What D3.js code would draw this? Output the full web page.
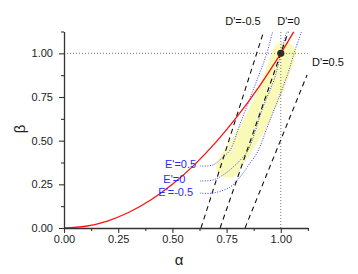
<!DOCTYPE html>
<html>
<head>
<meta charset="utf-8">
<script src="https://cdn.jsdelivr.net/npm/d3@7"></script>
<style>
  html, body { margin: 0; padding: 0; background: #fff; }
  svg { display: block; }
  text { font-family: "Liberation Sans", Arial, sans-serif; }
</style>
</head>
<body>
<svg id="chart" width="358" height="274"></svg>
<script>
// ---- data ----
const xTicks = [0, 0.25, 0.5, 0.75, 1.0];
const yTicks = [0, 0.25, 0.5, 0.75, 1.0];
const xMinorTicks = [0.125, 0.375, 0.625, 0.875, 1.125];
const yMinorTicks = [0.125, 0.375, 0.625, 0.875, 1.125];

// red curve beta vs alpha
const redAlpha = [0, 0.1, 0.2, 0.3, 0.4, 0.5, 0.6, 0.7, 0.8, 0.9, 1.0, 1.06];
const redBeta  = [0, 0.01, 0.04, 0.09, 0.16, 0.25, 0.36, 0.49, 0.64, 0.81, 1.0, 1.124];

// D' dashed lines (start / end points)
const dLabels = ["D'=-0.5", "D'=0", "D'=0.5"];
const dAlpha = [[0.632, 0.921], [0.720, 1.035], [0.835, 1.121]];
const dBeta  = [[0, 1.125], [0, 1.125], [0, 0.876]];

// E' dotted curves
const eLabels = ["E'=0.5", "E'=0", "E'=-0.5"];
const eAlpha = [
  [0.627, 0.687, 0.733, 0.766, 0.812, 0.858, 0.899, 0.936, 0.964],
  [0.627, 0.687, 0.733, 0.780, 0.826, 0.849, 0.881, 0.913, 0.973, 1.0, 1.029],
  [0.627, 0.687, 0.766, 0.812, 0.858, 0.890, 0.950, 0.987, 1.033, 1.066, 1.098]
];
const eBeta = [
  [0.355, 0.361, 0.406, 0.446, 0.595, 0.744, 0.876, 1.002, 1.133],
  [0.269, 0.275, 0.303, 0.349, 0.406, 0.446, 0.550, 0.675, 0.864, 1.0, 1.133],
  [0.200, 0.200, 0.235, 0.292, 0.372, 0.429, 0.618, 0.733, 0.887, 1.019, 1.133]
];

// yellow band centre line
const bandAlpha = [1.015, 1.001, 0.941, 0.863, 0.757];
const bandBeta  = [0.996, 0.944, 0.750, 0.561, 0.355];

// highlighted point
const pointAlpha = [1.0];
const pointBeta = [1.0];

// ---- drawing ----
const svg = d3.select("#chart");
const x = d3.scaleLinear().domain([0, 1.125]).range([64, 307.9]);
const y = d3.scaleLinear().domain([0, 1.125]).range([228, 31.5]);

svg.append("defs").append("clipPath").attr("id", "plotclip")
  .append("rect")
  .attr("x", x(0)).attr("y", y(1.125))
  .attr("width", x(1.125) - x(0)).attr("height", y(0) - y(1.125));

const plot = svg.append("g").attr("clip-path", "url(#plotclip)");

// yellow band
const bandLine = d3.line().x(d => x(d[0])).y(d => y(d[1])).curve(d3.curveCatmullRom);
plot.append("path")
  .attr("d", bandLine(bandAlpha.map((a, i) => [a, bandBeta[i]])))
  .attr("fill", "none")
  .attr("stroke", "#fafab8")
  .attr("stroke-width", 24)
  .attr("stroke-linecap", "round")
  .attr("stroke-linejoin", "round");

// reference dotted lines at alpha=1, beta=1
plot.append("line")
  .attr("x1", x(0)).attr("x2", x(1.125))
  .attr("y1", y(1)).attr("y2", y(1))
  .attr("stroke", "#777").attr("stroke-width", 1).attr("stroke-dasharray", "1,2");
plot.append("line")
  .attr("x1", x(1)).attr("x2", x(1))
  .attr("y1", y(0)).attr("y2", y(1.125))
  .attr("stroke", "#777").attr("stroke-width", 1).attr("stroke-dasharray", "1,2");

// E' curves
const curve = d3.line().x(d => x(d[0])).y(d => y(d[1])).curve(d3.curveCatmullRom);
eAlpha.forEach((arr, k) => {
  plot.append("path")
    .attr("d", curve(arr.map((a, i) => [a, eBeta[k][i]])))
    .attr("fill", "none")
    .attr("stroke", "#3c3cff")
    .attr("stroke-width", 1)
    .attr("stroke-dasharray", "1,1.5");
});

// D' lines
dAlpha.forEach((arr, k) => {
  plot.append("line")
    .attr("x1", x(arr[0])).attr("y1", y(dBeta[k][0]))
    .attr("x2", x(arr[1])).attr("y2", y(dBeta[k][1]))
    .attr("stroke", "#111")
    .attr("stroke-width", 1.1)
    .attr("stroke-dasharray", "5,4");
});

// red curve
plot.append("path")
  .attr("d", curve(redAlpha.map((a, i) => [a, redBeta[i]])))
  .attr("fill", "none")
  .attr("stroke", "#ff1010")
  .attr("stroke-width", 1.3);

// point
svg.append("circle")
  .attr("cx", x(pointAlpha[0])).attr("cy", y(pointBeta[0]))
  .attr("r", 3.6)
  .attr("fill", "#2e2e22");

// axes
const axisColor = "#333";
svg.append("g").attr("transform", `translate(0,${y(0)})`)
  .call(d3.axisBottom(x).tickValues(xTicks).tickFormat(d3.format(".2f"))
    .tickSize(5).tickSizeOuter(0).tickPadding(2.5));
svg.append("g").attr("transform", `translate(0,${y(0)})`)
  .call(d3.axisBottom(x).tickValues(xMinorTicks).tickFormat("").tickSize(3).tickSizeOuter(0))
  .select(".domain").remove();
svg.append("g").attr("transform", `translate(${x(0)},0)`)
  .call(d3.axisLeft(y).tickValues(yTicks).tickFormat(d3.format(".2f"))
    .tickSize(5).tickSizeOuter(0).tickPadding(6));
svg.append("g").attr("transform", `translate(${x(0)},0)`)
  .call(d3.axisLeft(y).tickValues(yMinorTicks).tickFormat("").tickSize(3).tickSizeOuter(0))
  .select(".domain").remove();

svg.selectAll(".domain").attr("stroke", axisColor).attr("stroke-width", 1.3);
svg.selectAll(".tick line").attr("stroke", axisColor).attr("stroke-width", 1.1);
svg.selectAll(".tick text").attr("font-size", 11).attr("fill", "#222")
  .attr("font-family", "'Liberation Sans', Arial, sans-serif");

// axis titles
svg.append("text").attr("x", 179).attr("y", 265).attr("text-anchor", "middle")
  .attr("font-size", 15).attr("fill", "#222").text("α");
svg.append("text").attr("transform", "translate(25,129) rotate(-90)")
  .attr("text-anchor", "middle").attr("font-size", 15).attr("fill", "#222").text("β");

// D' labels
const dLabelX = [243, 288.5, 328];
const dLabelY = [25.3, 25.3, 65.7];
dLabels.forEach((t, k) => {
  svg.append("text").attr("x", dLabelX[k]).attr("y", dLabelY[k])
    .attr("text-anchor", "middle").attr("font-size", 11).attr("fill", "#111").text(t);
});

// E' labels
const eLabelX = [165, 163.3, 158.3];
const eLabelY = [168.3, 182.7, 196];
eLabels.forEach((t, k) => {
  svg.append("text").attr("x", eLabelX[k]).attr("y", eLabelY[k])
    .attr("font-size", 11).attr("fill", "#2a2aff").text(t);
});
</script>
</body>
</html>
